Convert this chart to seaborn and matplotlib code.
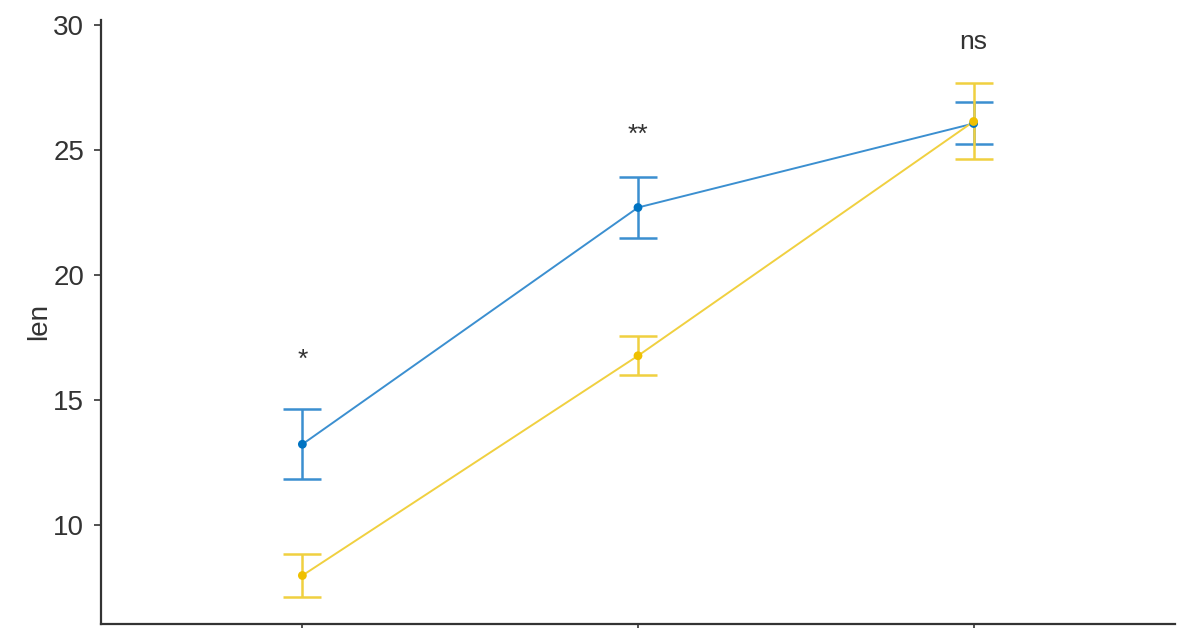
import pandas as pd
import matplotlib
matplotlib.use("Agg")
from matplotlib import pyplot as plt
import seaborn as sns

doses = ["0.5", "1", "2"]
oj_mean = [13.23, 22.70, 26.06]
oj_se = [1.41, 1.24, 0.84]
vc_mean = [7.98, 16.77, 26.14]
vc_se = [0.87, 0.79, 1.52]
labels = ["*", "**", "ns"]
label_y = [16.6, 25.6, 29.3]

sns.set_style("ticks")
plt.rcParams['font.family'] = ['Liberation Sans', 'DejaVu Sans']

df = pd.DataFrame({
    "dose": doses * 2,
    "len": oj_mean + vc_mean,
    "se": oj_se + vc_se,
    "supp": ["OJ"] * 3 + ["VC"] * 3,
})

colors = {"OJ": "#0073C2", "VC": "#EFC000"}
light = {"OJ": "#3b8fd0", "VC": "#f0d040"}

fig = plt.figure(figsize=(11.96, 6.28), dpi=100)
ax = fig.add_axes([101 / 1196, 4 / 628, (1175 - 101) / 1196, (624 - 20) / 628])

for supp in ["OJ", "VC"]:
    sub = df[df.supp == supp]
    sns.lineplot(data=sub, x="dose", y="len", color=light[supp], lw=1.4, ax=ax,
                 sort=False, zorder=2)
    ax.errorbar(range(len(sub)), sub["len"], yerr=sub["se"], fmt="none",
                ecolor=light[supp], elinewidth=1.8, capsize=14, capthick=1.8, zorder=3)
    ax.scatter(range(len(sub)), sub["len"], color=colors[supp], s=40, zorder=4,
               edgecolor="none")

for i, (lab, y) in enumerate(zip(labels, label_y)):
    ax.text(i, y, lab, ha="center", va="center", fontsize=19, color="#333333")

ax.set_xlim(-0.6, 2.6)
ax.set_ylim(6.04, 30.2)
ax.set_yticks([10, 15, 20, 25, 30])
ax.tick_params(axis="y", labelsize=20, labelcolor="#333333", length=5, width=1.2,
               color="#333333", pad=7)
ax.tick_params(axis="x", length=5, width=1.2, color="#333333", labelbottom=False)
ax.set_ylabel("len", fontsize=20, color="#333333", labelpad=1)
ax.set_xlabel("")
for s in ["left", "bottom"]:
    ax.spines[s].set_linewidth(1.6)
    ax.spines[s].set_color("#333333")
sns.despine(ax=ax)

fig.savefig("out.png", dpi=100)
